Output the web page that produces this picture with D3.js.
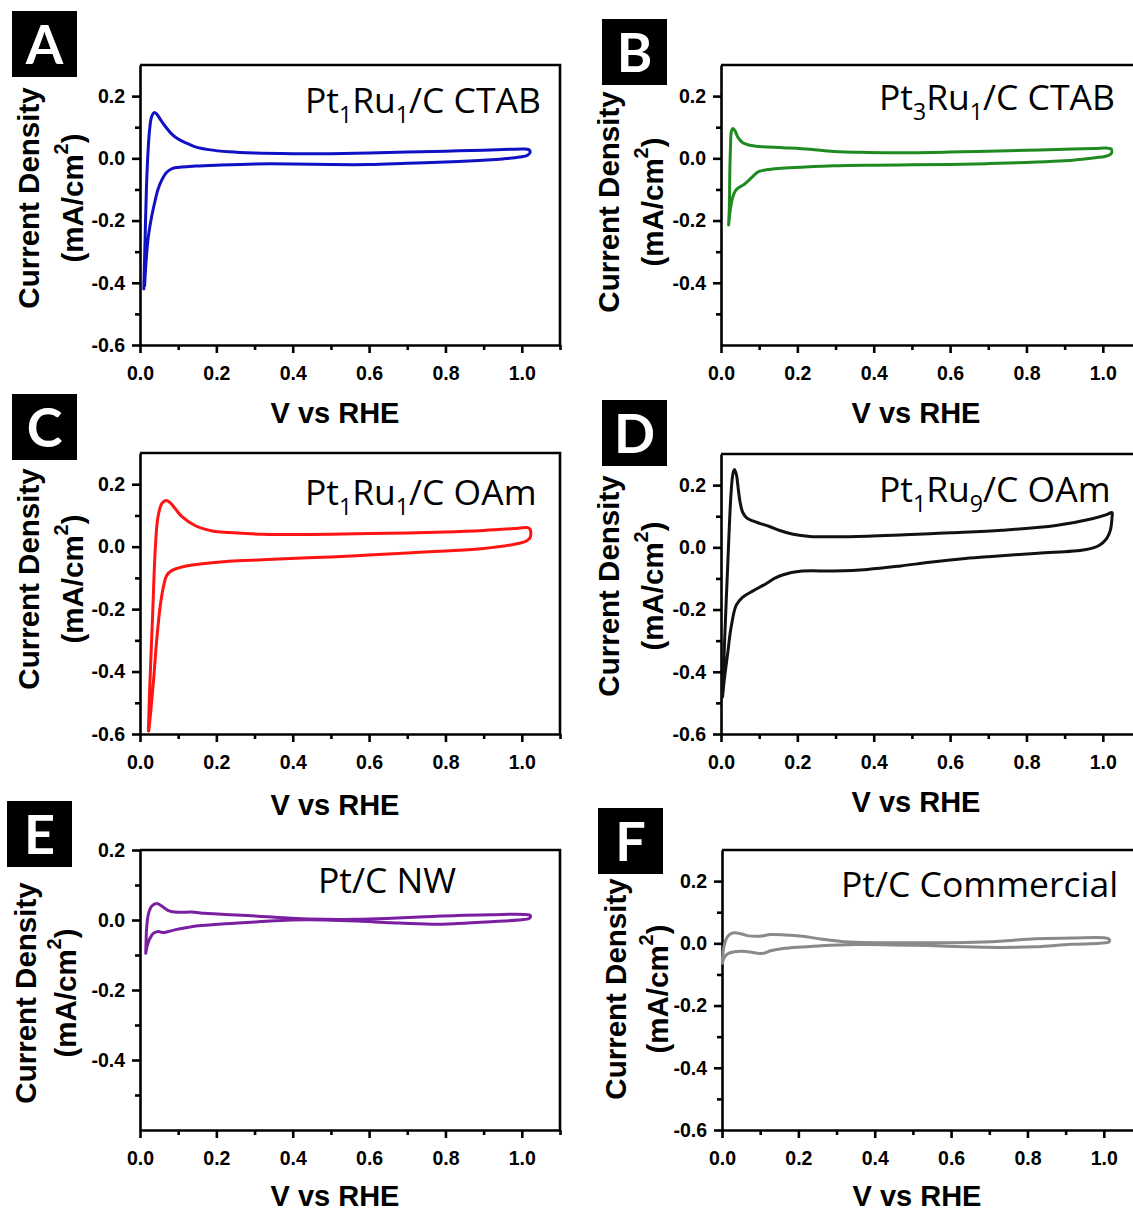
<!DOCTYPE html>
<html>
<head>
<meta charset="utf-8">
<script src="https://cdn.jsdelivr.net/npm/d3@7"></script>
<style>
  body { margin: 0; background: #fff; }
  svg { display: block; }
</style>
</head>
<body>
<div id="chart"></div>
<script>
// Cyclic voltammograms, six catalysts. Each loop is read off the figure
// in sweep order: up the anodic branch, back along the cathodic one.

const potA = [0.010, 0.0135, 0.017, 0.021, 0.025, 0.030, 0.037, 0.044, 0.055, 0.068, 0.084, 0.100, 0.120, 0.145, 0.180, 0.233, 0.300, 0.400, 0.500, 0.600, 0.700, 0.800, 0.900, 0.970, 1.005, 1.018, 1.022, 1.015, 0.995, 0.950, 0.900, 0.800, 0.700, 0.600, 0.500, 0.400, 0.300, 0.200, 0.145, 0.110, 0.084, 0.070, 0.057, 0.047, 0.040, 0.030, 0.022, 0.016, 0.012];
const curA = [-0.420, -0.250, -0.090, 0.020, 0.090, 0.132, 0.147, 0.142, 0.122, 0.100, 0.077, 0.062, 0.050, 0.037, 0.028, 0.021, 0.017, 0.015, 0.015, 0.017, 0.020, 0.023, 0.026, 0.029, 0.030, 0.028, 0.020, 0.010, 0.004, -0.002, -0.006, -0.012, -0.016, -0.020, -0.020, -0.018, -0.018, -0.022, -0.025, -0.028, -0.033, -0.045, -0.070, -0.100, -0.134, -0.190, -0.250, -0.330, -0.410];

const potB = [0.020, 0.022, 0.023, 0.025, 0.027, 0.031, 0.037, 0.044, 0.057, 0.075, 0.100, 0.163, 0.233, 0.295, 0.380, 0.500, 0.600, 0.700, 0.800, 0.900, 0.980, 1.010, 1.022, 1.022, 1.005, 0.980, 0.900, 0.800, 0.700, 0.600, 0.500, 0.400, 0.295, 0.207, 0.150, 0.119, 0.100, 0.092, 0.080, 0.068, 0.058, 0.048, 0.038, 0.030, 0.025, 0.022, 0.020];
const curB = [-0.214, -0.150, -0.050, 0.040, 0.085, 0.096, 0.088, 0.068, 0.050, 0.042, 0.038, 0.034, 0.029, 0.022, 0.019, 0.018, 0.020, 0.023, 0.026, 0.029, 0.032, 0.033, 0.030, 0.015, 0.006, 0.002, -0.008, -0.013, -0.017, -0.020, -0.021, -0.022, -0.024, -0.029, -0.033, -0.037, -0.042, -0.048, -0.062, -0.076, -0.086, -0.093, -0.104, -0.128, -0.160, -0.190, -0.214];

const potC = [0.022, 0.026, 0.033, 0.040, 0.047, 0.057, 0.068, 0.078, 0.092, 0.110, 0.145, 0.190, 0.233, 0.320, 0.410, 0.500, 0.600, 0.700, 0.800, 0.900, 0.980, 1.015, 1.022, 1.022, 1.012, 0.990, 0.900, 0.800, 0.700, 0.600, 0.500, 0.410, 0.320, 0.233, 0.163, 0.110, 0.084, 0.070, 0.062, 0.053, 0.044, 0.035, 0.028, 0.023];
const curC = [-0.590, -0.435, -0.221, -0.007, 0.095, 0.138, 0.148, 0.142, 0.122, 0.096, 0.067, 0.050, 0.045, 0.040, 0.039, 0.040, 0.042, 0.044, 0.047, 0.052, 0.058, 0.061, 0.055, 0.030, 0.018, 0.010, -0.006, -0.014, -0.020, -0.027, -0.033, -0.037, -0.042, -0.047, -0.055, -0.065, -0.076, -0.092, -0.125, -0.190, -0.296, -0.435, -0.530, -0.590];

const potD = [0.004, 0.009, 0.018, 0.026, 0.031, 0.035, 0.040, 0.045, 0.050, 0.057, 0.068, 0.085, 0.101, 0.127, 0.154, 0.189, 0.233, 0.295, 0.383, 0.470, 0.547, 0.602, 0.736, 0.877, 0.972, 1.010, 1.024, 1.024, 1.020, 1.010, 0.990, 0.953, 0.830, 0.700, 0.640, 0.547, 0.470, 0.383, 0.295, 0.207, 0.163, 0.140, 0.119, 0.084, 0.057, 0.040, 0.026, 0.018, 0.009, 0.004];
const curD = [-0.481, -0.315, -0.046, 0.168, 0.235, 0.250, 0.235, 0.190, 0.145, 0.112, 0.094, 0.084, 0.077, 0.067, 0.054, 0.042, 0.035, 0.034, 0.036, 0.040, 0.044, 0.047, 0.055, 0.070, 0.092, 0.105, 0.112, 0.095, 0.056, 0.028, 0.006, -0.008, -0.019, -0.030, -0.036, -0.048, -0.060, -0.071, -0.076, -0.077, -0.088, -0.100, -0.116, -0.140, -0.160, -0.186, -0.260, -0.336, -0.422, -0.481];

const potE = [0.015, 0.016, 0.017, 0.022, 0.031, 0.044, 0.057, 0.074, 0.100, 0.135, 0.170, 0.223, 0.310, 0.397, 0.484, 0.570, 0.659, 0.746, 0.833, 0.920, 1.005, 1.022, 1.020, 0.990, 0.920, 0.833, 0.764, 0.659, 0.570, 0.484, 0.397, 0.310, 0.223, 0.135, 0.100, 0.074, 0.061, 0.048, 0.035, 0.024, 0.018, 0.015];
const curE = [-0.095, -0.060, -0.029, 0.017, 0.040, 0.047, 0.040, 0.027, 0.022, 0.023, 0.019, 0.016, 0.011, 0.005, 0.002, 0.002, 0.005, 0.009, 0.013, 0.015, 0.016, 0.013, 0.005, 0.000, -0.005, -0.010, -0.012, -0.008, -0.003, 0.000, 0.000, -0.005, -0.011, -0.019, -0.026, -0.033, -0.036, -0.033, -0.038, -0.057, -0.078, -0.095];

const potF = [0.001, 0.005, 0.014, 0.025, 0.033, 0.052, 0.070, 0.099, 0.127, 0.164, 0.211, 0.258, 0.333, 0.446, 0.540, 0.634, 0.728, 0.822, 0.915, 1.000, 1.014, 1.014, 0.990, 0.915, 0.822, 0.728, 0.634, 0.540, 0.446, 0.352, 0.258, 0.164, 0.127, 0.108, 0.089, 0.061, 0.033, 0.014, 0.005, 0.001];
const curF = [-0.064, -0.011, 0.021, 0.032, 0.034, 0.030, 0.024, 0.023, 0.028, 0.027, 0.023, 0.014, 0.004, 0.002, 0.002, 0.003, 0.007, 0.015, 0.017, 0.018, 0.013, 0.005, 0.000, -0.003, -0.011, -0.013, -0.011, -0.007, -0.005, -0.004, -0.008, -0.016, -0.024, -0.032, -0.031, -0.026, -0.027, -0.034, -0.048, -0.064];

// Tick values
const xMajor = [0, 0.2, 0.4, 0.6, 0.8, 1.0];
const xMinor = [0.1, 0.3, 0.5, 0.7, 0.9, 1.1];
const yMajorFull = [0.2, 0.0, -0.2, -0.4, -0.6];
const yMajorShort = [0.2, 0.0, -0.2, -0.4];
const yMinor = [0.1, -0.1, -0.3, -0.5];

// Sample names: [text, "sub" | ""]
const nameA = [["Pt", ""], ["1", "sub"], ["Ru", ""], ["1", "sub"], ["/C CTAB", ""]];
const nameB = [["Pt", ""], ["3", "sub"], ["Ru", ""], ["1", "sub"], ["/C CTAB", ""]];
const nameC = [["Pt", ""], ["1", "sub"], ["Ru", ""], ["1", "sub"], ["/C OAm", ""]];
const nameD = [["Pt", ""], ["1", "sub"], ["Ru", ""], ["9", "sub"], ["/C OAm", ""]];
const nameE = [["Pt/C NW", ""]];
const nameF = [["Pt/C Commercial", ""]];

const W = 1133, H = 1212;
const plotW = 420;  // 0 .. 1.1 V

const panels = [
    { letter: "A", pot: potA, cur: curA, name: nameA, colour: "#1010c4", left: 140, top: 65, bottom: 345, yMax: 0.3, yTicks: yMajorFull,
      box: [12, 11], nameAt: [305, 113], yLab: [28, 72, 198], xLabY: 423 },
    { letter: "B", pot: potB, cur: curB, name: nameB, colour: "#1f8a1f", left: 721, top: 65, bottom: 345, yMax: 0.3, yTicks: yMajorShort,
      box: [602, 19], nameAt: [879, 110], yLab: [608, 652, 202], xLabY: 423 },
    { letter: "C", pot: potC, cur: curC, name: nameC, colour: "#ff1414", left: 140, top: 453, bottom: 734, yMax: 0.3, yTicks: yMajorFull,
      box: [12, 394], nameAt: [305, 505], yLab: [28, 72, 579], xLabY: 815 },
    { letter: "D", pot: potD, cur: curD, name: nameD, colour: "#111111", left: 721, top: 454, bottom: 734, yMax: 0.3, yTicks: yMajorFull,
      box: [602, 400], nameAt: [879, 502], yLab: [608, 652, 586], xLabY: 812 },
    { letter: "E", pot: potE, cur: curE, name: nameE, colour: "#7a1ea2", left: 140, top: 850, bottom: 1130, yMax: 0.2, yTicks: yMajorShort,
      box: [7, 801], nameAt: [318, 893], yLab: [25, 65, 993], xLabY: 1206 },
    { letter: "F", pot: potF, cur: curF, name: nameF, colour: "#8a8a8a", left: 722, top: 850, bottom: 1130, yMax: 0.3, yTicks: yMajorFull,
      box: [598, 808], nameAt: [841, 897], yLab: [615, 657, 989], xLabY: 1206 }
];

const svg = d3.select("#chart").append("svg")
    .attr("width", W)
    .attr("height", H)
    .style("font-family", "'Liberation Sans', Arial, sans-serif");

const fmt = (d) => d.toFixed(1);

function drawPanel(p) {
    const g = svg.append("g").attr("class", "panel-" + p.letter);

    const x = d3.scaleLinear().domain([0, 1.1]).range([p.left, p.left + plotW]);
    const y = d3.scaleLinear().domain([-0.6, p.yMax]).range([p.bottom, p.top]);

    // frame (top and right)
    g.append("path")
        .attr("d", `M${p.left},${p.top}H${p.left + plotW}V${p.bottom}`)
        .attr("fill", "none")
        .attr("stroke", "#000")
        .attr("stroke-width", 2.6);

    // x axis, major then minor
    g.append("g")
        .attr("transform", "translate(0," + p.bottom + ")")
        .call(d3.axisBottom(x).tickValues(xMajor).tickSize(8).tickSizeOuter(0).tickPadding(13).tickFormat(fmt));
    g.append("g")
        .attr("transform", "translate(0," + p.bottom + ")")
        .call(d3.axisBottom(x).tickValues(xMinor).tickSize(5).tickSizeOuter(0).tickFormat(""))
        .select(".domain").remove();

    // y axis
    g.append("g")
        .attr("transform", "translate(" + p.left + ",0)")
        .call(d3.axisLeft(y).tickValues(p.yTicks).tickSize(8).tickSizeOuter(0).tickPadding(7).tickFormat(fmt));
    g.append("g")
        .attr("transform", "translate(" + p.left + ",0)")
        .call(d3.axisLeft(y).tickValues(yMinor).tickSize(5).tickSizeOuter(0).tickFormat(""))
        .select(".domain").remove();

    g.selectAll(".domain, .tick line")
        .attr("stroke", "#000")
        .attr("stroke-width", 2.6);
    g.selectAll(".tick text")
        .attr("fill", "#000")
        .style("font-size", "19.5px")
        .style("font-weight", "bold");

    // the CV loop
    const pts = p.pot.map((v, i) => [v, p.cur[i]]);
    const line = d3.line()
        .x((d) => x(d[0]))
        .y((d) => y(d[1]))
        .curve(d3.curveCatmullRom.alpha(0.5));
    g.append("path")
        .datum(pts)
        .attr("d", line)
        .attr("fill", "none")
        .attr("stroke", p.colour)
        .attr("stroke-width", 3)
        .attr("stroke-linejoin", "round")
        .attr("stroke-linecap", "round");

    // sample name
    const t = g.append("text")
        .attr("x", p.nameAt[0])
        .attr("y", p.nameAt[1])
        .style("font-family", "'Open Sans', sans-serif")
        .style("font-size", "35.5px")
        .attr("fill", "#000");
    p.name.forEach(function(part, i) {
        if (part[1] === "sub") {
            t.append("tspan").attr("dy", 10).style("font-size", "23px").text(part[0]);
        } else {
            const ts = t.append("tspan").text(part[0]);
            if (i > 0) ts.attr("dy", -10);
        }
    });

    // axis titles
    g.append("text")
        .attr("x", p.left + 195)
        .attr("y", p.xLabY)
        .attr("text-anchor", "middle")
        .style("font-size", "29px")
        .style("font-weight", "bold")
        .text("V vs RHE");

    g.append("text")
        .attr("transform", "translate(" + p.yLab[0] + "," + p.yLab[2] + ") rotate(-90)")
        .attr("text-anchor", "middle")
        .attr("dominant-baseline", "central")
        .style("font-size", "29.5px")
        .style("font-weight", "bold")
        .text("Current Density");

    const unit = g.append("text")
        .attr("transform", "translate(" + p.yLab[1] + "," + p.yLab[2] + ") rotate(-90)")
        .attr("text-anchor", "middle")
        .attr("dominant-baseline", "central")
        .style("font-size", "29.5px")
        .style("font-weight", "bold");
    unit.append("tspan").text("(mA/cm");
    unit.append("tspan").attr("dy", -11).style("font-size", "20px").text("2");
    unit.append("tspan").attr("dy", 11).text(")");

    // panel letter
    g.append("rect")
        .attr("x", p.box[0])
        .attr("y", p.box[1])
        .attr("width", 65)
        .attr("height", 66)
        .attr("fill", "#000");
    g.append("text")
        .attr("x", p.box[0] + 32.5)
        .attr("y", p.box[1] + 53)
        .attr("text-anchor", "middle")
        .attr("fill", "#fff")
        .style("font-family", "Lato, sans-serif")
        .style("font-size", "54px")
        .style("font-weight", "bold")
        .text(p.letter);
}

panels.forEach(drawPanel);
</script>
</body>
</html>
